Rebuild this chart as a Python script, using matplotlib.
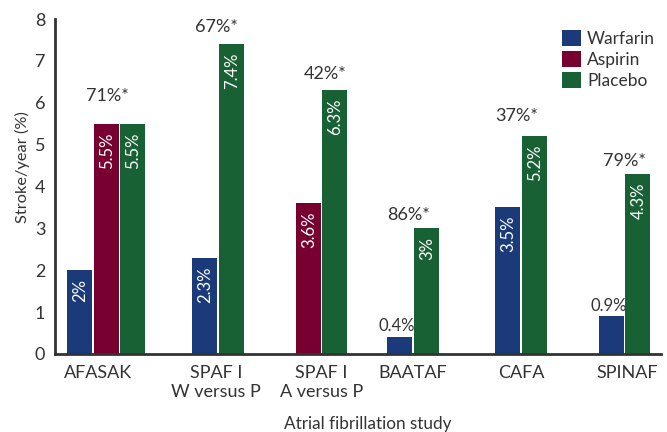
import matplotlib
matplotlib.use("Agg")
import matplotlib.pyplot as plt
from matplotlib.patches import Patch

plt.rcParams['font.family'] = ['Lato', 'DejaVu Sans']

# ---- data ----
studies = ["AFASAK", "SPAF I\nW versus P", "SPAF I\nA versus P", "BAATAF", "CAFA", "SPINAF"]
warfarin = [2.0, 2.3, None, 0.4, 3.5, 0.9]
aspirin = [5.5, None, 3.6, None, None, None]
placebo = [5.5, 7.4, 6.3, 3.0, 5.2, 4.3]
reductions = ["71%*", "67%*", "42%*", "86%*", "37%*", "79%*"]
series_names = ["Warfarin", "Aspirin", "Placebo"]
yticks = [0, 1, 2, 3, 4, 5, 6, 7, 8]

# ---- layout (not data) ----
colors = ["#1b3a7a", "#780030", "#176135"]
group_centers = [106, 218, 321.5, 413, 521, 624.5]
label_centers = [98, 216, 321.5, 413, 521, 627]
ann_dx = [1, -2, 3.5, -4, -4, -0.5]          # px shift of reduction labels
ann_offsets = [20, 12.3, 11.7, 9.7, 14.6, 9.4]  # points above tallest bar (text centre)
bar_w = 25
step = 26.5
txt = "#333333"

W, H = 667, 432
fig = plt.figure(figsize=(W / 100, H / 100), dpi=100)
x0, x1 = 55, 661
yb, yt = 354, 19
ax = fig.add_axes([x0 / W, 1 - yb / H, (x1 - x0) / W, (yb - yt) / H])
ax.set_xlim(x0, x1)
ax.set_ylim(0, 8)

series = [warfarin, aspirin, placebo]
for g, c in enumerate(group_centers):
    present = [(s, series[s][g]) for s in range(3) if series[s][g] is not None]
    n = len(present)
    for k, (s, v) in enumerate(present):
        xc = c + (k - (n - 1) / 2) * step
        ax.bar(xc, v, width=bar_w, color=colors[s], linewidth=0)
        lab = f"{v:g}%"
        if v >= 1.5:
            ax.annotate(lab, (xc, v), xytext=(0.5, -6), textcoords="offset points",
                        rotation=90, ha="center", va="top", color="white", fontsize=12)
        else:
            ax.annotate(lab, (xc, v), xytext=(-2, 2), textcoords="offset points",
                        ha="center", va="bottom", color=txt, fontsize=12)
    top = max(v for _, v in present)
    ax.annotate(reductions[g], (c + ann_dx[g], top), xytext=(0, ann_offsets[g]), textcoords="offset points",
                ha="center", va="center", color=txt, fontsize=13)

ax.set_xticks(label_centers)
ax.set_xticklabels(studies, fontsize=13, color=txt, linespacing=1.2)
ax.set_yticks(yticks)
ax.set_yticklabels([str(t) for t in yticks], fontsize=13, color=txt)
ax.tick_params(axis="both", length=0, pad=7)
ax.tick_params(axis="x", pad=8)
for sp in ["top", "right"]:
    ax.spines[sp].set_visible(False)
for sp in ["left", "bottom"]:
    ax.spines[sp].set_color("#333333")
    ax.spines[sp].set_linewidth(2)

ax.set_xlabel("Atrial fibrillation study", fontsize=12.3, color=txt)
ax.xaxis.set_label_coords((368 - x0) / (x1 - x0), -(416 - yb) / (yb - yt))
ax.set_ylabel("Stroke/year (%)", fontsize=11.8, color=txt)
ax.yaxis.set_label_coords(-(55 - 30) / (x1 - x0), (yb - 167) / (yb - yt))

handles = [Patch(facecolor=colors[i], edgecolor="none", label=series_names[i]) for i in range(3)]
leg = ax.legend(handles=handles, loc="upper left", bbox_to_anchor=((562 - x0) / (x1 - x0), 1 - (30 - yt) / (yb - yt)),
                frameon=False, fontsize=12.5, handlelength=1.1, handleheight=1.05,
                handletextpad=0.35, labelspacing=0.22, borderaxespad=0, borderpad=0)
for t in leg.get_texts():
    t.set_color(txt)

fig.savefig("out.png", dpi=100)
